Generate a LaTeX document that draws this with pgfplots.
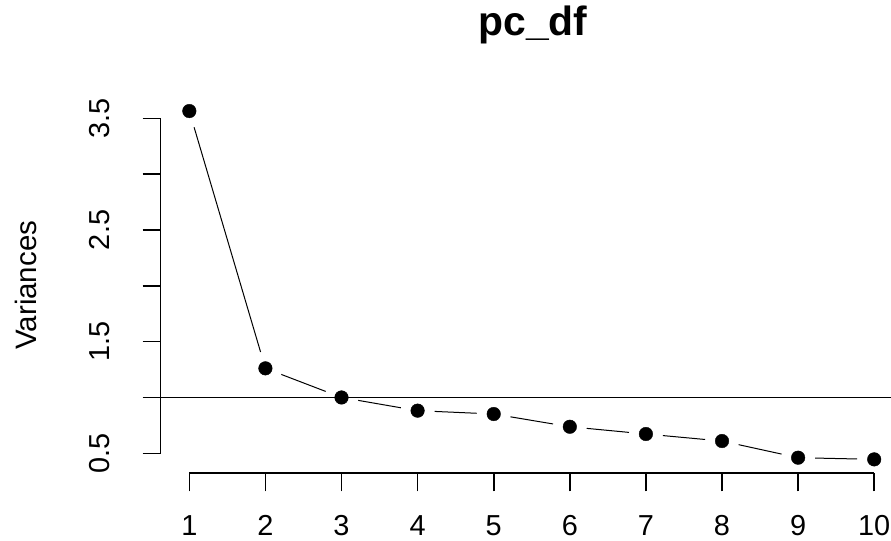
\documentclass[border=0pt]{standalone}
\usepackage{fontspec}
\setmainfont{Liberation Sans}
\usepackage{pgfplots}
\pgfplotsset{compat=1.18}

\begin{document}
\begin{tikzpicture}[x=1bp,y=1bp]
\useasboundingbox (-160.7,-67.7) rectangle (730.3,473.3);
\clip (-160.7,-67.7) rectangle (730.3,473.3);
\begin{axis}[
    at={(0,0)}, anchor=south west,
    scale only axis,
    width=740.9bp, height=376.2bp,
    xmin=0.624, xmax=10.36,
    ymin=0.3212, ymax=3.690,
    clip=false,
    axis lines*=left,
    axis line style={draw=none},
    tick align=outside,
    major tick length=18bp,
    tick style={black, line width=1.6bp},
    xtick={1,2,3,4,5,6,7,8,9,10},
    xticklabels={1,2,3,4,5,6,7,8,9,10},
    ytick={0.5,1,1.5,2,2.5,3,3.5},
    yticklabels={0.5,{},1.5,{},2.5,{},3.5},
    ticklabel style={font=\fontsize{29}{29}\selectfont},
    xticklabel style={anchor=base, yshift=-43.7bp},
    yticklabel style={xshift=-32.7bp, rotate=90, anchor=base},
    title={pc\_df},
    title style={font=\fontsize{41}{41}\selectfont\bfseries,
        at={(axis description cs:0.5025,1.1473)}, anchor=base},
    ylabel={Variances},
    ylabel style={font=\fontsize{29.6}{29.6}\selectfont,
        at={(axis description cs:-0.16736,0.5)}, anchor=base},
    seg/.style={black, line width=1bp, shorten <=17bp, shorten >=17bp},
]

% reference line at 1
\addplot[black, line width=1.3bp] coordinates {(0.624,1) (10.36,1)};

% scree line, one segment at a time so that it stops short of the points
\addplot[seg] coordinates {(1,3.565) (2,1.261)};
\addplot[seg] coordinates {(2,1.261) (3,1.0)};
\addplot[seg] coordinates {(3,1.0) (4,0.882)};
\addplot[seg] coordinates {(4,0.882) (5,0.852)};
\addplot[seg] coordinates {(5,0.852) (6,0.738)};
\addplot[seg] coordinates {(6,0.738) (7,0.673)};
\addplot[seg] coordinates {(7,0.673) (8,0.61)};
\addplot[seg] coordinates {(8,0.61) (9,0.461)};
\addplot[seg] coordinates {(9,0.461) (10,0.446)};

\draw[black, line width=1.6bp] (axis cs:1,0.3212) -- (axis cs:10,0.3212);
\draw[black, line width=1.6bp] (axis cs:0.624,0.5) -- (axis cs:0.624,3.5);

\addplot[black, only marks, mark=*, mark size=6.8bp] coordinates {
(1,3.565) (2,1.261) (3,1.0) (4,0.882) (5,0.852) (6,0.738) (7,0.673) (8,0.61) (9,0.461) (10,0.446)
};
\end{axis}
\end{tikzpicture}
\end{document}
